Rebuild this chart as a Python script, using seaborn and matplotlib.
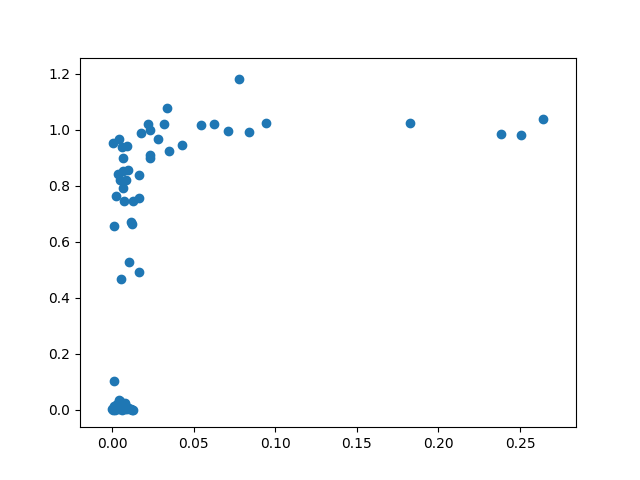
import matplotlib
matplotlib.use('Agg')
import matplotlib.pyplot as plt
import seaborn as sns
import numpy as np

# ── Data ──────────────────────────────────────────────────────
# upper band, around 0.9 - 1.2
x_top = [0.0004, 0.0045, 0.0060, 0.0094, 0.0069, 0.0180, 0.0233, 0.0222,
         0.0320, 0.0284, 0.0233, 0.0233, 0.0351, 0.0431, 0.0547, 0.0627,
         0.0713, 0.0841, 0.0337, 0.0778, 0.0944, 0.1826, 0.2384, 0.2506,
         0.2643]
y_top = [0.954, 0.967, 0.939, 0.943, 0.900, 0.988, 0.999, 1.022,
         1.020, 0.967, 0.910, 0.901, 0.924, 0.945, 1.017, 1.020,
         0.995, 0.993, 1.078, 1.182, 1.025, 1.025, 0.986, 0.982,
         1.039]

# middle band, 0.45 - 0.86
x_mid = [0.0039, 0.0069, 0.0096, 0.0165, 0.0049, 0.0086, 0.0069, 0.0025,
         0.0075, 0.0131, 0.0167, 0.0012, 0.0116, 0.0124, 0.0106, 0.0167,
         0.0055]
y_mid = [0.844, 0.852, 0.858, 0.838, 0.820, 0.820, 0.793, 0.764,
         0.745, 0.746, 0.757, 0.656, 0.671, 0.662, 0.529, 0.493,
         0.467]

# cluster near zero
x_low = [0.0012, 0.0000, 0.0010, 0.0020, 0.0030, 0.0040, 0.0050, 0.0060,
         0.0070, 0.0080, 0.0090, 0.0100, 0.0110, 0.0120, 0.0130, 0.0005,
         0.0020, 0.0040, 0.0060, 0.0080, 0.0030, 0.0050, 0.0070, 0.0010,
         0.0090, 0.0115]
y_low = [0.102, 0.002, 0.005, 0.010, 0.020, 0.035, 0.030, 0.015,
         0.008, 0.025, 0.010, 0.005, 0.002, 0.001, 0.000, 0.000,
         0.000, 0.003, 0.001, 0.002, 0.008, 0.012, 0.020, 0.015,
         0.003, 0.004]

x = np.array(x_top + x_mid + x_low)
y = np.array(y_top + y_mid + y_low)

# ── Plot ──────────────────────────────────────────────────────
fig, ax = plt.subplots(figsize=(6.4, 4.8), dpi=100)
sns.scatterplot(x=x, y=y, ax=ax, s=36, color='#1f77b4',
                edgecolor='#1f77b4', linewidth=1)
ax.set_xlim(-0.0196, 0.2843)
ax.set_ylim(-0.062, 1.258)

plt.savefig('out.png', dpi=100)
plt.close()
